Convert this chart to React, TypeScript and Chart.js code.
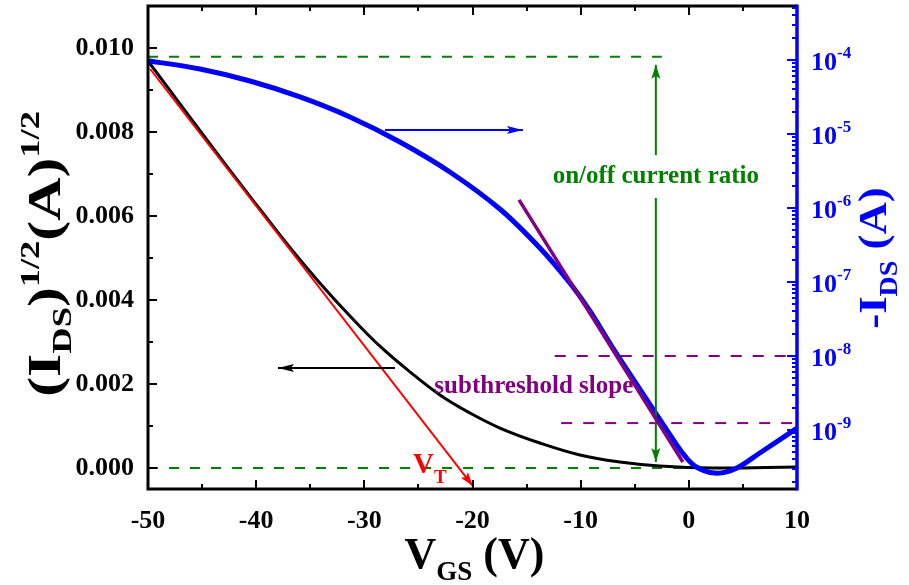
import React, { useEffect, useRef } from "react";
import { Chart, registerables } from "chart.js";

Chart.register(...registerables);

const FONT = '"Liberation Serif", "Times New Roman", Times, serif';

// Black curve: sqrt(I_DS) vs V_GS (left axis)
const vgsBlack = [-50, -43.35, -39.65, -36.88, -34.1, -31.33, -28.56, -25.79, -23.01, -20.24, -17.47, -13.77, -10.07, -6.38, -2.68, 2.22, 10];
const sqrtIds = [0.00969, 0.0074, 0.00616, 0.00525, 0.0044, 0.00362, 0.0029, 0.00229, 0.00174, 0.00131, 0.000952, 0.000595, 0.00031, 0.000143, 0.0000476, 0.0, 0.0000238];

// Blue curve: -I_DS vs V_GS (right log axis)
const vgsBlue = [-50, -45.19, -40.57, -35.95, -31.33, -26.71, -22.09, -17.47, -13.77, -11.0, -9.15, -7.02, -4.53, -2.03, -0.65, 0.56, 2.4, 4.25, 6.56, 10];
const negIds = [9.8e-5, 7.56e-5, 5.2e-5, 3.17e-5, 1.7e-5, 7.8e-6, 3.07e-6, 9.69e-7, 2.88e-7, 9.69e-8, 4.06e-8, 1.28e-8, 3.58e-9, 1.0e-9, 5.04e-10, 3.26e-10, 2.62e-10, 2.97e-10, 4.89e-10, 1.06e-9];

// Threshold-voltage tangent (red)
const vtLineX = [-49.8, -19.96];
const vtLineY = [0.0095, -0.00043];

// Subthreshold slope tangent (purple, right axis)
const ssLineX = [-15.7, -0.55];
const ssLineY = [1.29e-6, 3.7e-10];

// Purple dashed reference levels (right axis)
const ssLevel1X = [-12.4, 10];
const ssLevel1Y = 1e-8;
const ssLevel2X = [-11.8, 10];
const ssLevel2Y = 1.24e-9;

// Green dashed on/off levels (left axis)
const onLevelX = [-50, -2.5];
const onLevelY = 0.00979;
const offLevelX = [-50, 1.9];
const offLevelY = 0;

// Green double arrow (left axis units)
const ratioArrowX = -3.05;
const ratioUpY = [0.00745, 0.0096];
const ratioDownY = [0.00643, 0.00014];

// Direction arrows (left axis units)
const blueArrowX = [-28.1, -15.34];
const blueArrowY = 0.00805;
const blackArrowX = [-27.17, -37.98];
const blackArrowY = 0.00238;

// Axis settings
const xMin = -50, xMax = 10, xStep = 5;
const yMin = -0.0005, yMax = 0.011, yStep = 0.001;
const y1Min = 1.595e-10, y1Max = 5.37e-4;
const logExps = [-10, -9, -8, -7, -6, -5, -4, -3];

// Annotations: [x, y(left axis)]
const onoffPos = [-3.05, 0.00693];
const ssTextPos = [-14.33, 0.00193];
const vtTextPos = [-25.5, -0.00012];

const GREEN = "#008000";
const PURPLE = "#800080";
const BLUE = "#0000ff";
const RED = "#ff0000";

type Part = { t: string; s: number; dy: number };

function drawRich(ctx: CanvasRenderingContext2D, parts: Part[], x: number, y: number, align: "left" | "center") {
  let w = 0;
  for (const p of parts) {
    ctx.font = `bold ${p.s}px ${FONT}`;
    w += ctx.measureText(p.t).width;
  }
  let cx = align === "center" ? x - w / 2 : x;
  ctx.textAlign = "left";
  ctx.textBaseline = "alphabetic";
  for (const p of parts) {
    ctx.font = `bold ${p.s}px ${FONT}`;
    ctx.fillText(p.t, cx, y + p.dy);
    cx += ctx.measureText(p.t).width;
  }
}

const decorPlugin = {
  id: "decor",
  afterDatasetsDraw(chart: any) {
    const ctx: CanvasRenderingContext2D = chart.ctx;
    chart.data.datasets.forEach((ds: any, i: number) => {
      if (!ds.arrow) return;
      const pts = chart.getDatasetMeta(i).data;
      const a = pts[pts.length - 2];
      const b = pts[pts.length - 1];
      const ang = Math.atan2(b.y - a.y, b.x - a.x);
      const L = ds.arrowLen || 14;
      const W = ds.arrowHalf || 4.5;
      const c = Math.cos(ang), s = Math.sin(ang);
      ctx.save();
      ctx.fillStyle = ds.borderColor;
      ctx.beginPath();
      ctx.moveTo(b.x, b.y);
      ctx.lineTo(b.x - L * c + W * s, b.y - L * s - W * c);
      ctx.lineTo(b.x - L * c * 0.8, b.y - L * s * 0.8);
      ctx.lineTo(b.x - L * c - W * s, b.y - L * s + W * c);
      ctx.closePath();
      ctx.fill();
      ctx.restore();
    });
  },
  afterDraw(chart: any) {
    const ctx: CanvasRenderingContext2D = chart.ctx;
    const { left, right, top, bottom } = chart.chartArea;
    const xs = chart.scales.x;
    const ys = chart.scales.y;
    const y1 = chart.scales.y1;
    ctx.save();
    // ticks on x (bottom & top)
    ctx.strokeStyle = "#000";
    ctx.lineWidth = 2;
    for (let v = xMin; v <= xMax + 1e-9; v += xStep) {
      const px = Math.round(xs.getPixelForValue(v));
      const len = v % 10 === 0 ? 9 : 5;
      ctx.beginPath();
      ctx.moveTo(px, bottom);
      ctx.lineTo(px, bottom - len);
      ctx.moveTo(px, top);
      ctx.lineTo(px, top + len);
      ctx.stroke();
    }
    // ticks on left y
    for (let k = 0; k <= 10; k++) {
      const py = Math.round(ys.getPixelForValue(k * yStep));
      const len = k % 2 === 0 ? 9 : 5;
      ctx.beginPath();
      ctx.moveTo(left, py);
      ctx.lineTo(left + len, py);
      ctx.stroke();
    }
    // frame
    ctx.lineWidth = 3;
    ctx.beginPath();
    ctx.moveTo(right, top);
    ctx.lineTo(left, top);
    ctx.lineTo(left, bottom);
    ctx.lineTo(right, bottom);
    ctx.stroke();
    // right log axis in blue
    ctx.strokeStyle = BLUE;
    ctx.fillStyle = BLUE;
    ctx.lineWidth = 2;
    for (const e of logExps) {
      for (let m = 1; m <= 9; m++) {
        const v = m * Math.pow(10, e);
        if (v < y1Min || v > y1Max) continue;
        const py = Math.round(y1.getPixelForValue(v));
        const len = m === 1 ? 10 : 5;
        ctx.beginPath();
        ctx.moveTo(right, py);
        ctx.lineTo(right - len, py);
        ctx.stroke();
      }
    }
    ctx.lineWidth = 3.5;
    ctx.beginPath();
    ctx.moveTo(right, top - 1.5);
    ctx.lineTo(right, bottom + 1.5);
    ctx.stroke();
    // right tick labels 10^n
    for (const e of logExps) {
      const v = Math.pow(10, e);
      if (v < y1Min || v > y1Max) continue;
      const py = y1.getPixelForValue(v);
      drawRich(ctx, [
        { t: "10", s: 26, dy: 0 },
        { t: String(e), s: 17, dy: -12 },
      ], right + 14, py + 10, "left");
    }
    // axis titles
    ctx.fillStyle = "#000";
    drawRich(ctx, [
      { t: "V", s: 44, dy: 0 },
      { t: "GS", s: 27, dy: 12 },
      { t: " (V)", s: 44, dy: 0 },
    ], (left + right) / 2 + 2, 568, "center");

    ctx.save();
    ctx.translate(60, 254);
    ctx.rotate(-Math.PI / 2);
    ctx.scale(1.3, 1);
    drawRich(ctx, [
      { t: "(I", s: 46, dy: 0 },
      { t: "DS", s: 28, dy: 11 },
      { t: ")", s: 46, dy: 0 },
      { t: "1/2", s: 28, dy: -21 },
      { t: "(A)", s: 46, dy: 0 },
      { t: "1/2", s: 28, dy: -21 },
    ], 0, 0, "center");
    ctx.restore();

    ctx.save();
    ctx.fillStyle = BLUE;
    ctx.translate(886, 258);
    ctx.rotate(-Math.PI / 2);
    ctx.scale(1.12, 1);
    drawRich(ctx, [
      { t: "-I", s: 40, dy: 0 },
      { t: "DS", s: 25, dy: 11 },
      { t: " (A)", s: 40, dy: 0 },
    ], 0, 0, "center");
    ctx.restore();

    // annotations
    ctx.fillStyle = GREEN;
    ctx.font = `bold 25px ${FONT}`;
    ctx.textAlign = "center";
    ctx.textBaseline = "middle";
    ctx.fillText("on/off current ratio", xs.getPixelForValue(onoffPos[0]), ys.getPixelForValue(onoffPos[1]));
    ctx.fillStyle = PURPLE;
    ctx.fillText("subthreshold slope", xs.getPixelForValue(ssTextPos[0]), ys.getPixelForValue(ssTextPos[1]));
    ctx.fillStyle = RED;
    drawRich(ctx, [
      { t: "V", s: 29, dy: 0 },
      { t: "T", s: 19, dy: 10 },
    ], xs.getPixelForValue(vtTextPos[0]), ys.getPixelForValue(vtTextPos[1]), "left");
    ctx.restore();
  },
};

function seg(xa: number[], ya: number[]) {
  return xa.map((x, i) => ({ x, y: ya[i] }));
}

export default function App() {
  const ref = useRef<HTMLCanvasElement>(null);
  useEffect(() => {
    if (!ref.current) return;
    const fitFix = (w?: number, h?: number) => (scale: any) => {
      if (w !== undefined) scale.width = w;
      if (h !== undefined) scale.height = h;
      scale.paddingTop = 0;
      scale.paddingBottom = 0;
      scale.paddingLeft = 0;
      scale.paddingRight = 0;
    };
    const line = (extra: any) => ({
      pointRadius: 0,
      pointHoverRadius: 0,
      fill: false,
      tension: 0,
      ...extra,
    });
    const chart = new Chart(ref.current, {
      type: "line",
      data: {
        datasets: [
          line({ label: "SS tangent", data: seg(ssLineX, ssLineY), yAxisID: "y1", borderColor: PURPLE, borderWidth: 3.5 }),
          line({ label: "ratio up", data: [{ x: ratioArrowX, y: ratioUpY[0] }, { x: ratioArrowX, y: ratioUpY[1] }], yAxisID: "y", borderColor: GREEN, borderWidth: 2, arrow: true, arrowLen: 14, arrowHalf: 4.5 }),
          line({ label: "ratio down", data: [{ x: ratioArrowX, y: ratioDownY[0] }, { x: ratioArrowX, y: ratioDownY[1] }], yAxisID: "y", borderColor: GREEN, borderWidth: 2, arrow: true, arrowLen: 14, arrowHalf: 4.5 }),
          line({ label: "blue arrow", data: [{ x: blueArrowX[0], y: blueArrowY }, { x: blueArrowX[1], y: blueArrowY }], yAxisID: "y", borderColor: BLUE, borderWidth: 2, arrow: true, arrowLen: 16, arrowHalf: 4 }),
          line({ label: "black arrow", data: [{ x: blackArrowX[0], y: blackArrowY }, { x: blackArrowX[1], y: blackArrowY }], yAxisID: "y", borderColor: "#000", borderWidth: 2, arrow: true, arrowLen: 16, arrowHalf: 4 }),
          line({ label: "VT tangent", data: seg(vtLineX, vtLineY), yAxisID: "y", borderColor: RED, borderWidth: 2, arrow: true, arrowLen: 14, arrowHalf: 4.5 }),
          line({ label: "-IDS", data: seg(vgsBlue, negIds), yAxisID: "y1", borderColor: BLUE, borderWidth: 5, tension: 0.35 }),
          line({ label: "sqrt IDS", data: seg(vgsBlack, sqrtIds), yAxisID: "y", borderColor: "#000", borderWidth: 3, tension: 0.4 }),
          line({ label: "level 1e-8", data: [{ x: ssLevel1X[0], y: ssLevel1Y }, { x: ssLevel1X[1], y: ssLevel1Y }], yAxisID: "y1", borderColor: PURPLE, borderWidth: 2, borderDash: [11, 11] }),
          line({ label: "level 1e-9", data: [{ x: ssLevel2X[0], y: ssLevel2Y }, { x: ssLevel2X[1], y: ssLevel2Y }], yAxisID: "y1", borderColor: PURPLE, borderWidth: 2, borderDash: [11, 11] }),
          line({ label: "on level", data: [{ x: onLevelX[0], y: onLevelY }, { x: onLevelX[1], y: onLevelY }], yAxisID: "y", borderColor: GREEN, borderWidth: 2, borderDash: [10, 11] }),
          line({ label: "off level", data: [{ x: offLevelX[0], y: offLevelY }, { x: offLevelX[1], y: offLevelY }], yAxisID: "y", borderColor: GREEN, borderWidth: 2, borderDash: [10, 11] }),
        ],
      },
      options: {
        animation: false,
        responsive: true,
        maintainAspectRatio: false,
        layout: { padding: { top: 6, left: 0, right: 0, bottom: 0 } },
        plugins: { legend: { display: false }, tooltip: { enabled: false } },
        events: [],
        scales: {
          x: {
            type: "linear",
            min: xMin,
            max: xMax,
            grid: { display: false },
            border: { display: false },
            afterFit: fitFix(undefined, 96),
            ticks: {
              stepSize: xStep,
              autoSkip: false,
              maxRotation: 0,
              padding: 9,
              color: "#000",
              font: { family: FONT, size: 26, weight: "bold" },
              callback: (v: any) => (Math.round(v) % 10 === 0 ? String(Math.round(v)) : ""),
            },
          },
          y: {
            type: "linear",
            position: "left",
            min: yMin,
            max: yMax,
            grid: { display: false },
            border: { display: false },
            afterFit: fitFix(148, undefined),
            ticks: {
              stepSize: yStep,
              includeBounds: false,
              autoSkip: false,
              padding: 6,
              color: "#000",
              font: { family: FONT, size: 26, weight: "bold" },
              callback: (v: any) => {
                const k = Math.round(v / yStep);
                if (Math.abs(v - k * yStep) > 1e-9 || k < 0 || k > 10 || k % 2 !== 0) return "";
                return (k * yStep).toFixed(3);
              },
            },
          },
          y1: {
            type: "logarithmic",
            position: "right",
            min: y1Min,
            max: y1Max,
            grid: { display: false },
            border: { display: false },
            afterFit: fitFix(112, undefined),
            ticks: { display: false },
          },
        },
      } as any,
      plugins: [decorPlugin as any],
    });
    return () => chart.destroy();
  }, []);
  return (
    <div style={{ position: "fixed", left: 0, top: 0, width: 909, height: 585, background: "#fff" }}>
      <canvas ref={ref} />
    </div>
  );
}
